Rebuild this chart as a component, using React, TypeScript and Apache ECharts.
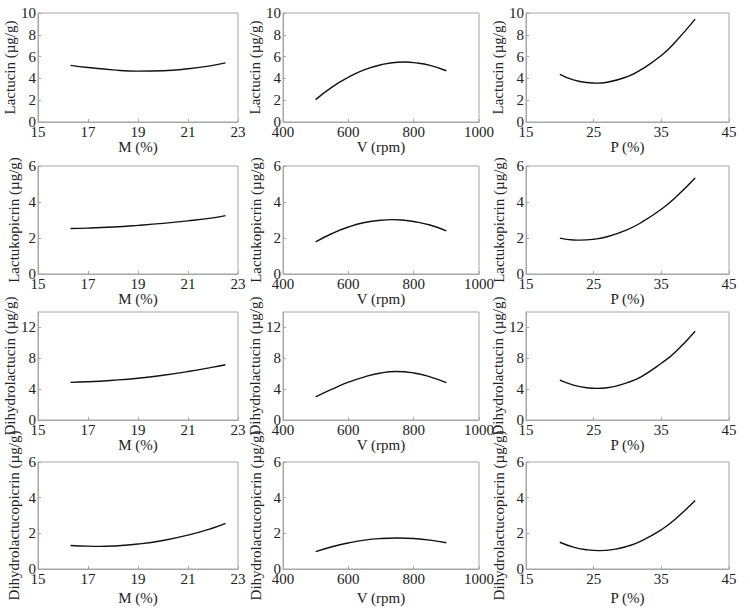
import React, { useEffect, useRef } from "react";
import * as echarts from "echarts";

// ---- data ----
const xNameM = "M (%)";
const xNameV = "V (rpm)";
const xNameP = "P (%)";
const yNames = [
  "Lactucin (µg/g)",
  "Lactukopicrin (µg/g)",
  "Dihydrolactucin (µg/g)",
  "Dihydrolactucopicrin (µg/g)",
];

const lactucinM = [[16.3, 5.2], [17, 5.0], [18, 4.78], [19, 4.67], [20, 4.7], [21, 4.88], [22, 5.2], [22.5, 5.42]];
const lactucinV = [[500, 2.05], [550, 3.2], [600, 4.1], [650, 4.8], [700, 5.25], [750, 5.48], [775, 5.5], [800, 5.45], [850, 5.2], [900, 4.7]];
const lactucinP = [[20, 4.38], [22, 3.87], [24, 3.62], [25.5, 3.57], [27, 3.65], [30, 4.17], [32, 4.8], [35, 6.1], [37, 7.3], [40, 9.44]];

const lactukopicrinM = [[16.3, 2.53], [17, 2.55], [18, 2.61], [19, 2.7], [20, 2.81], [21, 2.95], [22, 3.12], [22.5, 3.24]];
const lactukopicrinV = [[500, 1.78], [550, 2.25], [600, 2.61], [650, 2.86], [700, 2.99], [735, 3.02], [775, 2.98], [800, 2.92], [850, 2.72], [900, 2.4]];
const lactukopicrinP = [[20, 1.99], [22, 1.89], [23, 1.88], [25, 1.93], [27, 2.07], [30, 2.47], [32, 2.85], [35, 3.6], [37, 4.22], [40, 5.33]];

const dihydrolactucinM = [[16.3, 4.88], [17, 4.95], [18, 5.15], [19, 5.42], [20, 5.8], [21, 6.28], [22, 6.85], [22.5, 7.16]];
const dihydrolactucinV = [[500, 3.0], [550, 4.0], [600, 4.9], [650, 5.6], [700, 6.1], [745, 6.28], [800, 6.1], [850, 5.6], [900, 4.85]];
const dihydrolactucinP = [[20, 5.17], [22, 4.53], [24, 4.18], [25.5, 4.1], [27, 4.18], [30, 4.85], [32, 5.6], [35, 7.35], [37, 8.75], [40, 11.5]];

const dihydrolactucopicrinM = [[16.3, 1.32], [17, 1.28], [17.5, 1.27], [18, 1.29], [19, 1.4], [20, 1.6], [21, 1.9], [22, 2.3], [22.5, 2.56]];
const dihydrolactucopicrinV = [[500, 0.97], [550, 1.25], [600, 1.46], [650, 1.62], [700, 1.71], [750, 1.74], [800, 1.71], [850, 1.62], [900, 1.47]];
const dihydrolactucopicrinP = [[20, 1.5], [22, 1.23], [24, 1.08], [25.8, 1.03], [28, 1.1], [30, 1.28], [32, 1.56], [35, 2.2], [37, 2.78], [40, 3.84]];

const rowsData = [
  [lactucinM, lactucinV, lactucinP],
  [lactukopicrinM, lactukopicrinV, lactukopicrinP],
  [dihydrolactucinM, dihydrolactucinV, dihydrolactucinP],
  [dihydrolactucopicrinM, dihydrolactucopicrinV, dihydrolactucopicrinP],
];

const xScales = [
  { name: xNameM, min: 15, max: 23, interval: 2 },
  { name: xNameV, min: 400, max: 1000, interval: 200 },
  { name: xNameP, min: 15, max: 45, interval: 10 },
];
const yScales = [
  { min: 0, max: 10, interval: 2 },
  { min: 0, max: 6, interval: 2 },
  { min: 0, max: 14, interval: 4 },
  { min: 0, max: 6, interval: 2 },
];

// ---- layout ----
const colLeft = [38, 283, 526];
const colWidth = [200, 196, 203];
const rowTop = [13, 166, 312, 462];
const rowHeight = [109, 108, 108, 107];
const xNameGap = [17, 16, 17, 21];
const yNameGap = [17, 20, 20];

const FONT = "Liberation Serif";
const GRAY = "#a6a6a6";
const FS = 15;

export default function App() {
  const ref = useRef<HTMLDivElement>(null);
  useEffect(() => {
    if (!ref.current) return;
    const chart = echarts.init(ref.current, null, { renderer: "svg" });
    const grid: any[] = [];
    const xAxis: any[] = [];
    const yAxis: any[] = [];
    const series: any[] = [];
    let idx = 0;
    for (let r = 0; r < 4; r++) {
      for (let c = 0; c < 3; c++) {
        grid.push({
          left: colLeft[c],
          top: rowTop[r],
          width: colWidth[c],
          height: rowHeight[r],
          show: true,
          borderColor: GRAY,
          borderWidth: 1,
          backgroundColor: "transparent",
        });
        xAxis.push({
          type: "value",
          gridIndex: idx,
          min: xScales[c].min,
          max: xScales[c].max,
          interval: xScales[c].interval,
          name: xScales[c].name,
          nameLocation: "middle",
          nameGap: xNameGap[r],
          nameTextStyle: { fontFamily: FONT, fontSize: FS, color: "#222" },
          axisLine: { show: true, lineStyle: { color: GRAY } },
          axisTick: { show: true, inside: true, length: 3, lineStyle: { color: GRAY } },
          splitLine: { show: false },
          axisLabel: {
            fontFamily: FONT,
            fontSize: FS,
            color: "#222",
            margin: 2,
            formatter: (v: number) => String(v),
          },
        });
        yAxis.push({
          type: "value",
          gridIndex: idx,
          min: yScales[r].min,
          max: yScales[r].max,
          interval: yScales[r].interval,
          name: yNames[r],
          nameLocation: "middle",
          nameGap: yNameGap[c],
          nameTextStyle: { fontFamily: FONT, fontSize: FS, color: "#222" },
          axisLine: { show: true, lineStyle: { color: GRAY } },
          axisTick: { show: true, inside: true, length: 3, lineStyle: { color: GRAY } },
          splitLine: { show: false },
          axisLabel: {
            fontFamily: FONT,
            fontSize: FS,
            color: "#222",
            margin: 2,
            showMaxLabel: r === 2 ? false : true,
          },
        });
        series.push({
          type: "line",
          xAxisIndex: idx,
          yAxisIndex: idx,
          data: rowsData[r][c],
          smooth: true,
          showSymbol: false,
          lineStyle: { color: "#111", width: 1.4 },
        });
        idx++;
      }
    }
    chart.setOption({
      animation: false,
      backgroundColor: "#fff",
      grid,
      xAxis,
      yAxis,
      series,
    });
    return () => chart.dispose();
  }, []);
  return (
    <div
      ref={ref}
      style={{ position: "absolute", left: 0, top: 0, width: 750, height: 612 }}
    />
  );
}
